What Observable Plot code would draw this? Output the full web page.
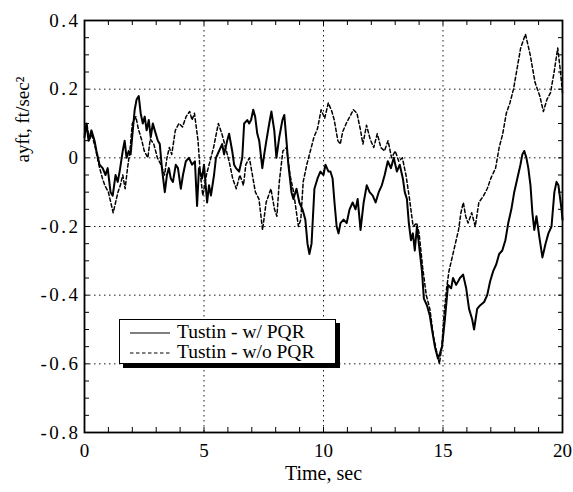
<!DOCTYPE html>
<html>
<head>
<meta charset="utf-8">
<script src="https://cdn.jsdelivr.net/npm/d3@7"></script>
<script src="https://cdn.jsdelivr.net/npm/@observablehq/plot@0.6"></script>
<style>
  body { margin: 0; background: #fff; }
  #chart { position: relative; width: 573px; height: 492px; font-family: "Liberation Serif", "Times New Roman", serif; }
  #chart g[aria-label="y-axis tick label"] text { letter-spacing: 2.5px; }
  #legend { position: absolute; left: 119px; top: 319px; width: 215px; height: 43px; border: 1.5px solid #000; background: #fff; box-shadow: 4px 4px 0 #000; }
  #legend .row { position: absolute; left: 0; height: 21px; line-height: 21px; font-size: 19.5px; white-space: nowrap; }
  #legend .row svg { position: absolute; left: 10px; top: 0; }
  #legend .row span { position: absolute; left: 57px; top: 0; }
</style>
</head>
<body>
<div id="chart"></div>
<script>
// Series names
const seriesNames = ["Tustin - w/ PQR", "Tustin - w/o PQR"];

// Time (sec) and ayft (ft/sec^2) for "Tustin - w/ PQR" (solid)
const timeWith = [0,0.08,0.17,0.29,0.42,0.5,0.63,0.76,0.88,0.97,1.09,1.18,1.3,1.39,1.47,1.6,1.68,1.76,1.85,1.93,2.02,2.1,2.18,2.27,2.35,2.44,2.52,2.6,2.69,2.77,2.86,2.94,3.07,3.15,3.24,3.36,3.45,3.53,3.61,3.7,3.82,3.91,4.03,4.12,4.24,4.37,4.5,4.62,4.71,4.79,4.92,5.0,5.13,5.21,5.29,5.42,5.5,5.63,5.76,5.84,5.97,6.05,6.18,6.26,6.34,6.47,6.6,6.68,6.81,6.89,6.97,7.06,7.14,7.23,7.31,7.44,7.52,7.61,7.73,7.82,7.94,8.03,8.15,8.28,8.36,8.45,8.53,8.66,8.74,8.87,8.99,9.12,9.24,9.33,9.41,9.5,9.62,9.75,9.87,10.0,10.08,10.21,10.29,10.38,10.46,10.55,10.63,10.71,10.84,10.97,11.09,11.22,11.34,11.43,11.55,11.68,11.81,11.93,12.06,12.18,12.31,12.44,12.56,12.69,12.82,12.94,13.07,13.19,13.32,13.4,13.49,13.57,13.66,13.74,13.82,13.91,13.99,14.12,14.2,14.33,14.45,14.54,14.66,14.79,14.87,14.96,15.08,15.21,15.34,15.42,15.55,15.71,15.84,15.97,16.09,16.22,16.3,16.43,16.55,16.72,16.85,16.97,17.1,17.23,17.35,17.48,17.61,17.73,17.86,17.98,18.11,18.24,18.32,18.4,18.49,18.57,18.66,18.74,18.82,18.91,19.03,19.16,19.29,19.41,19.54,19.66,19.75,19.83,19.96,20.0];
const ayftWith = [0.06,0.10,0.05,0.08,0.05,0.02,-0.02,-0.03,-0.05,-0.03,-0.10,-0.11,-0.05,-0.07,-0.04,0.02,0.05,0.0,0.02,0.01,0.08,0.14,0.17,0.18,0.13,0.10,0.12,0.08,0.11,0.06,0.10,0.08,0.05,0.04,-0.03,-0.10,-0.05,-0.03,-0.06,-0.07,-0.02,-0.03,-0.09,-0.05,-0.01,0.0,-0.02,-0.01,-0.14,-0.03,-0.06,-0.02,-0.13,-0.08,-0.11,-0.05,0.0,0.02,0.04,0.01,0.05,0.07,0.02,-0.02,-0.03,-0.04,0.0,0.10,0.11,0.10,0.11,0.14,0.12,0.07,0.05,-0.03,0.01,0.05,0.10,0.135,0.08,0.0,0.06,0.11,0.125,0.05,-0.02,-0.10,-0.12,-0.09,-0.13,-0.15,-0.18,-0.25,-0.28,-0.25,-0.09,-0.06,-0.04,-0.05,-0.02,-0.04,-0.04,-0.06,-0.13,-0.20,-0.22,-0.19,-0.18,-0.19,-0.15,-0.13,-0.15,-0.12,-0.21,-0.13,-0.08,-0.10,-0.11,-0.13,-0.10,-0.08,-0.05,-0.01,-0.03,0.0,-0.04,-0.02,-0.06,-0.10,-0.12,-0.19,-0.24,-0.22,-0.27,-0.20,-0.25,-0.33,-0.41,-0.43,-0.46,-0.50,-0.55,-0.585,-0.57,-0.55,-0.47,-0.37,-0.38,-0.35,-0.37,-0.35,-0.34,-0.38,-0.44,-0.47,-0.50,-0.44,-0.43,-0.42,-0.40,-0.36,-0.33,-0.31,-0.28,-0.27,-0.24,-0.19,-0.15,-0.10,-0.06,-0.02,0.01,0.02,0.0,-0.03,-0.08,-0.16,-0.21,-0.17,-0.23,-0.29,-0.25,-0.22,-0.20,-0.10,-0.07,-0.08,-0.15,-0.18];

// Time (sec) and ayft (ft/sec^2) for "Tustin - w/o PQR" (dashed)
const timeWithout = [0,0.1,0.2,0.3,0.45,0.6,0.75,0.85,1.0,1.1,1.2,1.3,1.4,1.5,1.6,1.7,1.8,1.9,2.0,2.15,2.25,2.4,2.5,2.65,2.75,2.9,3.05,3.2,3.35,3.45,3.55,3.65,3.8,3.95,4.1,4.25,4.4,4.5,4.6,4.75,4.85,4.95,5.1,5.25,5.4,5.6,5.75,5.9,6.05,6.2,6.35,6.5,6.65,6.75,6.9,7.0,7.15,7.3,7.45,7.6,7.8,7.95,8.05,8.15,8.3,8.45,8.6,8.75,8.85,8.95,9.05,9.15,9.3,9.45,9.6,9.75,9.9,10.05,10.2,10.35,10.45,10.6,10.7,10.8,10.95,11.1,11.25,11.4,11.55,11.65,11.8,11.95,12.1,12.25,12.4,12.55,12.7,12.85,13.0,13.15,13.3,13.45,13.6,13.75,13.9,14.0,14.15,14.3,14.45,14.6,14.75,14.85,14.95,15.05,15.15,15.25,15.35,15.45,15.55,15.65,15.75,15.85,15.95,16.05,16.2,16.35,16.5,16.7,16.85,17.0,17.2,17.35,17.5,17.65,17.8,17.95,18.1,18.25,18.35,18.45,18.55,18.65,18.75,18.85,18.95,19.05,19.2,19.35,19.5,19.65,19.8,19.9,20.0];
const ayftWithout = [0.07,0.10,0.05,0.07,0.03,-0.02,-0.06,-0.08,-0.10,-0.13,-0.16,-0.13,-0.10,-0.08,-0.05,-0.09,-0.03,0.02,0.10,0.12,0.085,0.05,0.02,0.0,0.055,0.04,0.0,-0.02,-0.05,0.0,0.03,0.01,0.08,0.10,0.09,0.12,0.135,0.11,0.13,0.05,-0.05,-0.11,-0.05,-0.01,0.03,0.10,0.07,0.03,-0.01,-0.06,-0.09,-0.05,-0.08,-0.02,0.0,-0.04,-0.10,-0.12,-0.21,-0.13,-0.09,-0.15,-0.17,-0.07,0.02,0.03,-0.05,-0.10,-0.15,-0.20,-0.18,-0.07,-0.02,0.02,0.06,0.085,0.14,0.115,0.16,0.135,0.11,0.05,0.04,0.075,0.10,0.12,0.14,0.13,0.08,0.04,0.095,0.055,0.03,0.07,0.03,0.02,0.05,0.0,0.02,-0.01,0.0,-0.05,-0.12,-0.20,-0.19,-0.22,-0.32,-0.40,-0.44,-0.52,-0.57,-0.60,-0.55,-0.45,-0.38,-0.33,-0.30,-0.27,-0.24,-0.21,-0.16,-0.13,-0.17,-0.19,-0.16,-0.20,-0.13,-0.11,-0.09,-0.06,-0.03,0.03,0.07,0.13,0.16,0.20,0.26,0.32,0.34,0.36,0.33,0.30,0.26,0.22,0.20,0.18,0.135,0.17,0.19,0.25,0.32,0.26,0.19];

// Axis ticks
const xMajorTicks = [0, 5, 10, 15, 20];
const xMinorTicks = d3.range(0, 21, 1);
const yMajorTicks = [0.4, 0.2, 0, -0.2, -0.4, -0.6, -0.8];
const yMinorTicks = d3.range(-16, 9, 1).map(i => i * 0.05);
const xInnerGrid = [5, 10, 15];
const yInnerGrid = [0.2, 0, -0.2, -0.4, -0.6];
const xLabel = "Time, sec";
const yLabel = "ayft, ft/sec²";

const withData = timeWith.map((t, i) => ({t, v: ayftWith[i]}));
const withoutData = timeWithout.map((t, i) => ({t, v: ayftWithout[i]}));

const fnt = "Liberation Serif";
const fmtY = d => Math.abs(d) < 1e-9 ? "0" : d.toFixed(1);

const plot = Plot.plot({
  width: 573,
  height: 492,
  marginLeft: 84,
  marginRight: 11,
  marginTop: 20,
  marginBottom: 60,
  style: {fontFamily: fnt, fontSize: "19px", background: "#fff", color: "#000"},
  x: {domain: [0, 20]},
  y: {domain: [-0.8, 0.4]},
  marks: [
    Plot.gridX(xInnerGrid, {stroke: "#000", strokeOpacity: 0.9, strokeDasharray: "1.5,3.5", strokeWidth: 1}),
    Plot.gridY(yInnerGrid, {stroke: "#000", strokeOpacity: 0.9, strokeDasharray: "1.5,3.5", strokeWidth: 1}),
    Plot.line(withoutData, {x: "t", y: "v", stroke: "#000", strokeWidth: 1.5, strokeDasharray: "3.5,2.5"}),
    Plot.line(withData, {x: "t", y: "v", stroke: "#000", strokeWidth: 2}),
    Plot.frame({stroke: "#000", strokeWidth: 1.8}),
    // inward ticks on all four sides
    Plot.axisX(xMinorTicks, {anchor: "bottom", tickSize: -5, tickFormat: () => "", label: null}),
    Plot.axisX(xMinorTicks, {anchor: "top", tickSize: -4, tickFormat: () => "", label: null}),
    Plot.axisY(yMinorTicks, {anchor: "left", tickSize: -5, tickFormat: () => "", label: null}),
    Plot.axisY(yMinorTicks, {anchor: "right", tickSize: -5, tickFormat: () => "", label: null}),
    // labels
    Plot.axisX(xMajorTicks, {anchor: "bottom", tickSize: 0, tickPadding: 11, tickFormat: d => String(d), fontSize: 19, label: null}),
    Plot.axisY(yMajorTicks, {anchor: "left", tickSize: 0, tickPadding: 4, tickFormat: fmtY, fontSize: 19, label: null}),
    Plot.text([xLabel], {frameAnchor: "bottom", dy: 47, text: d => d, fontSize: 20, fontFamily: fnt}),
    Plot.text([yLabel], {frameAnchor: "left", dx: -62, dy: -64, rotate: -90, text: d => d, fontSize: 19, fontFamily: fnt})
  ]
});

const chart = document.getElementById("chart");
chart.appendChild(plot);

// Legend (inside the plot area, with drop shadow)
const legend = document.createElement("div");
legend.id = "legend";
const dashes = [null, "3.5,2.5"];
const rowTops = [1, 21];
seriesNames.forEach((name, i) => {
  const row = document.createElement("div");
  row.className = "row";
  row.style.top = rowTops[i] + "px";
  const svgNS = "http://www.w3.org/2000/svg";
  const svg = document.createElementNS(svgNS, "svg");
  svg.setAttribute("width", "42");
  svg.setAttribute("height", "21");
  const ln = document.createElementNS(svgNS, "line");
  ln.setAttribute("x1", "0"); ln.setAttribute("x2", "40");
  ln.setAttribute("y1", "12"); ln.setAttribute("y2", "12");
  ln.setAttribute("stroke", "#000");
  ln.setAttribute("stroke-width", "1.2");
  if (dashes[i]) ln.setAttribute("stroke-dasharray", dashes[i]);
  svg.appendChild(ln);
  const span = document.createElement("span");
  span.textContent = name;
  row.appendChild(svg);
  row.appendChild(span);
  legend.appendChild(row);
});
chart.appendChild(legend);
</script>
</body>
</html>
